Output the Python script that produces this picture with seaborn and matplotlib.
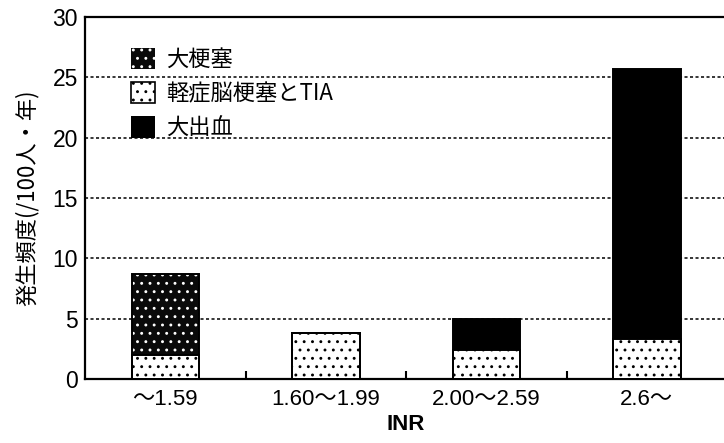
import matplotlib
matplotlib.use("Agg")
import matplotlib.pyplot as plt
from matplotlib.patches import Patch
from matplotlib.ticker import FixedLocator
import seaborn as sns
import numpy as np

# INR ranges and event rates (per 100 person-years)
categories = ["〜1.59", "1.60〜1.99", "2.00〜2.59", "2.6〜"]
major_infarct = [6.7, 0.0, 0.0, 0.0]      # 大梗塞
minor_infarct_tia = [2.0, 3.8, 2.4, 3.3]  # 軽症脳梗塞とTIA
major_bleeding = [0.0, 0.0, 2.6, 22.4]    # 大出血
series_labels = ["大梗塞", "軽症脳梗塞とTIA", "大出血"]
y_ticks = [0, 5, 10, 15, 20, 25, 30]

sns.set_theme(style="white")
num_font = ["Liberation Sans", "Noto Sans CJK JP"]
jp_font = ["Noto Sans CJK JP", "DejaVu Sans"]
plt.rcParams["font.family"] = num_font
plt.rcParams["hatch.linewidth"] = 0.9

fig = plt.figure(figsize=(7.24, 4.43), dpi=100)
ax = fig.add_axes([0.1174, 0.1445, 0.887, 0.817])

lower = np.array(minor_infarct_tia)
middle = lower + np.array(major_infarct)
total = middle + np.array(major_bleeding)

BAR_W = 0.42


def layer(heights, face, hatch_color, hatch):
    n0 = len(ax.patches)
    sns.barplot(x=categories, y=heights, order=categories, width=BAR_W,
                color=face, saturation=1, ax=ax, zorder=3)
    for p in ax.patches[n0:]:
        p.set_facecolor(face)
        p.set_edgecolor(hatch_color)
        p.set_hatch(hatch)
        p.set_linewidth(0)


def outline(heights, lw=1.4):
    n0 = len(ax.patches)
    sns.barplot(x=categories, y=heights, order=categories, width=BAR_W,
                fill=False, color="black", ax=ax, zorder=4)
    for p in ax.patches[n0:]:
        p.set_facecolor("none")
        p.set_edgecolor("black")
        p.set_hatch(None)
        p.set_linewidth(lw)


# stacked segments drawn as overlapping cumulative bars
layer(total, "black", "black", None)          # 大出血
layer(middle, "#0a0a0a", "white", "..")       # 大梗塞
layer(lower, "white", "black", "..")          # 軽症脳梗塞とTIA
outline(lower)
outline(total)

ax.set_xlim(-0.5, 3.5)
ax.set_ylim(0, 30)
ax.set_yticks(y_ticks)
ax.set_yticklabels([str(t) for t in y_ticks], fontsize=16.5, family=num_font)
ax.set_xticks(range(len(categories)))
ax.set_xticklabels(categories, fontsize=16, family=num_font)
ax.xaxis.set_minor_locator(FixedLocator([0.5, 1.5, 2.5]))
ax.tick_params(axis="x", which="major", length=0, pad=7)
ax.tick_params(axis="x", which="minor", direction="in", length=6, width=1.5,
               color="black", bottom=True)
ax.tick_params(axis="y", length=0, pad=5)
for lab in ax.get_xticklabels() + ax.get_yticklabels():
    lab.set_color("black")

ax.set_xlabel("INR", fontsize=16, family=num_font, fontweight="bold",
              color="black", labelpad=3)
ax.set_ylabel("発生頻度(/100人・年)", fontsize=16, family=jp_font,
              color="black", labelpad=10)

for y in y_ticks[1:-1]:
    ax.axhline(y, color="black", linestyle=(0, (2, 1.6)), linewidth=1.1,
               zorder=1)

for side in ["left", "bottom", "top"]:
    ax.spines[side].set_visible(True)
    ax.spines[side].set_color("black")
    ax.spines[side].set_linewidth(1.6)
ax.spines["right"].set_visible(False)
ax.set_facecolor("white")
ax.grid(False)

handles = [
    Patch(facecolor="#0a0a0a", edgecolor="white", hatch="..", linewidth=0),
    Patch(facecolor="white", edgecolor="black", hatch="..", linewidth=1.2),
    Patch(facecolor="black", edgecolor="black", linewidth=0),
]
leg = ax.legend(handles, series_labels, loc="upper left",
                bbox_to_anchor=(0.071, 0.915), frameon=False,
                borderaxespad=0, borderpad=0, handlelength=1.1,
                handleheight=1.1, handletextpad=0.5, labelspacing=0.5,
                prop={"family": jp_font, "size": 16})
for t in leg.get_texts():
    t.set_color("black")

fig.savefig("out.png", dpi=100, facecolor="white")
